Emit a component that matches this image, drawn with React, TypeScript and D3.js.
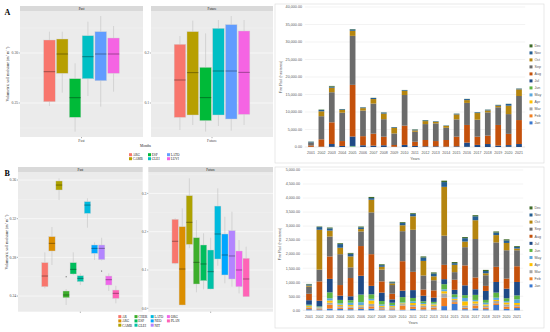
import React from "react";
import * as d3 from "d3";

// ---------- Box plot data: [lower whisker, q1, median, q3, upper whisker] ----------
const soilA = ["ARG", "CAMB", "ESP", "GLEI", "LATO", "LUVI"];
const soilColorsA = ["#F8766D", "#B79F00", "#00BA38", "#00BFC4", "#619CFF", "#F564E3"];
const pastA = [
  [0.247, 0.2513, 0.2813, 0.313, 0.3213],
  [0.2603, 0.2797, 0.299, 0.314, 0.3213],
  [0.2213, 0.2357, 0.2553, 0.2743, 0.2897],
  [0.257, 0.2743, 0.2963, 0.3173, 0.3313],
  [0.2463, 0.2723, 0.299, 0.3213, 0.337],
  [0.2613, 0.2797, 0.299, 0.315, 0.327],
];
const futureA = [
  [0.046, 0.0713, 0.146, 0.2173, 0.234],
  [0.056, 0.076, 0.1607, 0.2427, 0.2647],
  [0.0427, 0.0647, 0.1107, 0.1713, 0.2393],
  [0.054, 0.076, 0.164, 0.2493, 0.266],
  [0.0447, 0.068, 0.164, 0.2567, 0.274],
  [0.056, 0.0773, 0.1613, 0.244, 0.266],
];
const soilB = ["AR", "ARG", "CAMB", "CHER", "ESP", "GLEI", "LATO", "NEO", "NIT", "ORG", "PLAN"];
const soilColorsB = ["#F8766D", "#DB8E00", "#AEA200", "#3DAE2B", "#00BD5C", "#00C1A7", "#00BADE", "#00A6FF", "#B385FF", "#EF67EB", "#FF63B6"];
const pastB = [
  [0.248, 0.2497, 0.2607, 0.2745, 0.2852],
  [0.2721, 0.2866, 0.2945, 0.3014, 0.3114],
  [0.3393, 0.3497, 0.3548, 0.359, 0.3617],
  [0.2307, 0.2383, 0.2411, 0.2452, 0.2473],
  [0.2618, 0.2628, 0.2676, 0.2745, 0.2852],
  [0.2514, 0.2549, 0.2583, 0.261, 0.2635],
  [0.3107, 0.3255, 0.3341, 0.3376, 0.3411],
  [0.2773, 0.2842, 0.2893, 0.2928, 0.2955],
  [0.2767, 0.2777, 0.2893, 0.2928, 0.3003],
  [0.2452, 0.2514, 0.2569, 0.2607, 0.2635],
  [0.2325, 0.2376, 0.2428, 0.2462, 0.2507],
];
const pastBOutliers: [string, number][] = [["CHER", 0.26], ["NIT", 0.2659]];
const futureB = [
  [0.115, 0.1175, 0.175, 0.2323, 0.235],
  [0.008, 0.0086, 0.1026, 0.213, 0.261],
  [0.157, 0.167, 0.2245, 0.294, 0.3394],
  [0.0418, 0.0634, 0.12, 0.1843, 0.2305],
  [0.0496, 0.0721, 0.1157, 0.1653, 0.1958],
  [0.0495, 0.0504, 0.0956, 0.1522, 0.1843],
  [0.111, 0.1287, 0.194, 0.267, 0.3133],
  [0.0653, 0.087, 0.1392, 0.194, 0.2392],
  [0.0564, 0.0765, 0.1366, 0.2027, 0.2522],
  [0.039, 0.0564, 0.1, 0.1496, 0.1783],
  [0.03, 0.0303, 0.0765, 0.1305, 0.1608],
];

// ---------- Stacked bar data ----------
const years = ["2001", "2002", "2003", "2004", "2005", "2006", "2007", "2008", "2009", "2010", "2011",
  "2012", "2013", "2014", "2015", "2016", "2017", "2018", "2019", "2020", "2021"];
const months = ["Jan", "Feb", "Mar", "Apr", "May", "Jun", "Jul", "Aug", "Sep", "Oct", "Nov", "Dec"];
const monthColors = ["#3A78D0", "#F07F22", "#A5A5A5", "#FFC000", "#5BA8DE", "#5EB443", "#1F4A86", "#C4510C", "#6B6B6B", "#B5850F", "#255E91", "#3E6B2A"];

const fireA_Jan = [0, 0, 0, 0, 100, 0, 0, 0, 0, 0, 0, 0, 0, 0, 0, 0, 0, 0, 0, 0, 0];
const fireA_Feb = [0, 0, 0, 0, 0, 0, 0, 0, 0, 0, 0, 0, 0, 0, 0, 0, 0, 0, 0, 0, 0];
const fireA_Mar = [0, 0, 0, 0, 0, 0, 0, 0, 0, 0, 0, 0, 0, 0, 0, 0, 0, 0, 0, 0, 0];
const fireA_Apr = [0, 0, 0, 0, 0, 0, 0, 0, 0, 0, 0, 0, 0, 0, 0, 0, 0, 0, 0, 0, 0];
const fireA_May = [0, 0, 0, 0, 50, 0, 0, 0, 0, 0, 0, 0, 0, 0, 0, 0, 0, 0, 0, 0, 0];
const fireA_Jun = [0, 0, 50, 0, 150, 0, 0, 0, 0, 0, 0, 0, 0, 0, 0, 50, 0, 0, 0, 50, 0];
const fireA_Jul = [50, 100, 800, 300, 2700, 500, 400, 500, 70, 600, 300, 200, 200, 100, 200, 1200, 600, 850, 400, 500, 850];
const fireA_Aug = [400, 2100, 6200, 1400, 14750, 2600, 3400, 2450, 500, 5500, 1200, 1800, 1500, 1900, 2750, 5050, 2350, 2400, 5900, 3200, 6850];
const fireA_Sep = [700, 6600, 8600, 8100, 14000, 7300, 8600, 5000, 3300, 8750, 2850, 4550, 5050, 3500, 4950, 6300, 4850, 6650, 5050, 5650, 6870];
const fireA_Oct = [100, 1400, 1300, 800, 1450, 700, 1300, 1600, 1600, 1200, 400, 850, 400, 500, 1400, 800, 1900, 550, 450, 2400, 1900];
const fireA_Nov = [250, 400, 300, 200, 400, 200, 300, 300, 200, 200, 200, 200, 150, 100, 200, 300, 200, 200, 200, 500, 200];
const fireA_Dec = [50, 100, 200, 60, 100, 50, 50, 50, 30, 50, 100, 100, 50, 50, 50, 50, 50, 50, 50, 50, 50];

const fireB_Jan = [40, 30, 60, 50, 40, 50, 60, 30, 30, 20, 50, 30, 30, 150, 230, 40, 70, 40, 190, 50, 80];
const fireB_Feb = [40, 30, 140, 50, 50, 30, 80, 40, 40, 150, 80, 80, 70, 300, 60, 50, 100, 60, 60, 80, 60];
const fireB_Mar = [30, 20, 70, 50, 50, 60, 90, 50, 40, 50, 60, 60, 60, 150, 80, 80, 70, 60, 80, 80, 50];
const fireB_Apr = [40, 20, 80, 50, 50, 40, 120, 40, 40, 30, 70, 50, 50, 80, 40, 150, 80, 50, 40, 70, 70];
const fireB_May = [20, 20, 80, 50, 80, 110, 60, 50, 40, 30, 60, 40, 30, 70, 60, 120, 50, 60, 80, 50, 130];
const fireB_Jun = [30, 20, 210, 120, 90, 270, 160, 120, 80, 190, 120, 60, 60, 180, 100, 100, 180, 100, 180, 100, 140];
const fireB_Jul = [160, 200, 480, 150, 140, 670, 300, 300, 120, 230, 280, 200, 150, 180, 160, 350, 200, 320, 380, 340, 480];
const fireB_Aug = [230, 690, 800, 380, 650, 1060, 1130, 400, 200, 1050, 650, 220, 260, 510, 360, 710, 420, 180, 540, 360, 560];
const fireB_Sep = [250, 420, 710, 1100, 380, 520, 1490, 420, 310, 1070, 1500, 500, 360, 1040, 270, 650, 1370, 380, 870, 1010, 570];
const fireB_Oct = [40, 1420, 210, 230, 390, 85, 450, 100, 60, 210, 480, 520, 140, 1740, 260, 200, 670, 70, 260, 260, 60];
const fireB_Nov = [40, 95, 80, 130, 95, 60, 60, 60, 40, 80, 80, 120, 100, 170, 60, 120, 140, 80, 90, 90, 60];
const fireB_Dec = [20, 20, 30, 30, 30, 30, 40, 30, 20, 30, 30, 40, 40, 50, 40, 40, 40, 40, 40, 40, 30];

const fireA = [fireA_Jan, fireA_Feb, fireA_Mar, fireA_Apr, fireA_May, fireA_Jun, fireA_Jul, fireA_Aug, fireA_Sep, fireA_Oct, fireA_Nov, fireA_Dec];
const fireB = [fireB_Jan, fireB_Feb, fireB_Mar, fireB_Apr, fireB_May, fireB_Jun, fireB_Jul, fireB_Aug, fireB_Sep, fireB_Oct, fireB_Nov, fireB_Dec];

const SERIF = "'Liberation Serif', 'DejaVu Serif', serif";
const SANS = "'Liberation Sans', Arial, sans-serif";

type BoxProps = {
  x0: number; x1: number; stripTop: number; stripH: number; bottom: number;
  domain: [number, number]; ticks: number[]; fmt: string; strip: string;
  cats: string[]; colors: string[]; stats: number[][]; outliers?: [string, number][];
  step: number; xLabel?: string;
};

function BoxPanel(p: BoxProps) {
  const top = p.stripTop + p.stripH;
  const y = d3.scaleLinear().domain(p.domain).range([p.bottom, top]);
  const cx = (p.x0 + p.x1) / 2;
  const half = (p.cats.length * p.step) / 2;
  const xb = d3.scaleBand().domain(p.cats).range([cx - half, cx + half]).paddingInner(0.1).paddingOuter(0.05);
  const f = d3.format(p.fmt);
  const dt = p.ticks.length > 1 ? p.ticks[1] - p.ticks[0] : 0.1;
  const minor: number[] = [];
  for (let v = p.ticks[0] - dt / 2; v <= p.domain[1]; v += dt) if (v >= p.domain[0]) minor.push(v);
  return (
    <g>
      <rect x={p.x0} y={p.stripTop} width={p.x1 - p.x0} height={p.stripH} fill="#D9D9D9" />
      <text x={cx} y={p.stripTop + p.stripH / 2 + 1.2} fontSize={3.4} textAnchor="middle" fill="#1A1A1A" fontFamily={SERIF}>{p.strip}</text>
      <rect x={p.x0} y={top} width={p.x1 - p.x0} height={p.bottom - top} fill="#EBEBEB" />
      {minor.map((v, i) => (
        <line key={"m" + i} x1={p.x0} x2={p.x1} y1={y(v)} y2={y(v)} stroke="#F7F7F7" strokeWidth={0.3} />
      ))}
      {p.ticks.map((v, i) => (
        <g key={"t" + i}>
          <line x1={p.x0} x2={p.x1} y1={y(v)} y2={y(v)} stroke="#FFFFFF" strokeWidth={0.6} />
          <line x1={p.x0 - 1.2} x2={p.x0} y1={y(v)} y2={y(v)} stroke="#333" strokeWidth={0.4} />
          <text x={p.x0 - 1.8} y={y(v) + 1.3} fontSize={3.8} textAnchor="end" fill="#4D4D4D" fontFamily={SERIF}>{f(v)}</text>
        </g>
      ))}
      <line x1={cx} x2={cx} y1={p.bottom} y2={p.bottom + 1.2} stroke="#333" strokeWidth={0.4} />
      {p.xLabel && (
        <text x={cx} y={p.bottom + 5} fontSize={3.8} textAnchor="middle" fill="#4D4D4D" fontFamily={SERIF}>{p.xLabel}</text>
      )}
      {p.cats.map((c, i) => {
        const s = p.stats[i];
        const bx = xb(c)!;
        const bw = xb.bandwidth();
        const mx = bx + bw / 2;
        return (
          <g key={c}>
            <line x1={mx} x2={mx} y1={y(s[4])} y2={y(s[3])} stroke="#BDBDBD" strokeWidth={0.5} />
            <line x1={mx} x2={mx} y1={y(s[1])} y2={y(s[0])} stroke="#BDBDBD" strokeWidth={0.5} />
            <rect x={bx} y={y(s[3])} width={bw} height={Math.max(0.5, y(s[1]) - y(s[3]))} fill={p.colors[i]} stroke="#D0D0D0" strokeWidth={0.4} />
            <line x1={bx} x2={bx + bw} y1={y(s[2])} y2={y(s[2])} stroke="#000" strokeOpacity={0.5} strokeWidth={0.7} />
          </g>
        );
      })}
      {(p.outliers || []).map(([c, v], i) => (
        <circle key={"o" + i} cx={xb(c)! + xb.bandwidth() / 2} cy={y(v)} r={0.55} fill="#333" />
      ))}
    </g>
  );
}

type BarProps = {
  series: number[][]; frame: [number, number, number, number];
  xr: [number, number]; yr: [number, number]; yMax: number; yStep: number;
  labelX: number; yearY: number; yearsTitle: [number, number]; title: [number, number];
  legendX: number; legendY0: number; legendDy: number;
};

function BarChart(p: BarProps) {
  const rows = years.map((yr, i) => {
    const r: any = { year: yr };
    months.forEach((m, k) => (r[m] = p.series[k][i]));
    return r;
  });
  const stacked = d3.stack<any>().keys(months)(rows);
  const x = d3.scaleBand().domain(years).range(p.xr).paddingInner(0.45).paddingOuter(0.225);
  const y = d3.scaleLinear().domain([0, p.yMax]).range(p.yr);
  const ticks = d3.range(0, p.yMax + 1, p.yStep);
  const f = d3.format(",.2f");
  const [fx, fy, fw, fh] = p.frame;
  return (
    <g fontFamily={SANS}>
      <rect x={fx} y={fy} width={fw} height={fh} fill="#FFFFFF" stroke="#D9D9D9" strokeWidth={0.6} />
      {ticks.map((t) => (
        <g key={t}>
          <line x1={p.xr[0] - 1} x2={p.xr[1] + 1} y1={y(t)} y2={y(t)} stroke={t === 0 ? "#D0D0D0" : "#E6E6E6"} strokeWidth={0.5} />
          <text x={p.labelX} y={y(t) + 1.3} fontSize={3.7} textAnchor="end" fill="#595959">{f(t)}</text>
        </g>
      ))}
      {stacked.map((layer, k) => (
        <g key={months[k]} fill={monthColors[k]}>
          {layer.map((d, i) => (
            <rect key={i} x={x(years[i])} y={y(d[1])} width={x.bandwidth()} height={Math.max(0, y(d[0]) - y(d[1]))} />
          ))}
        </g>
      ))}
      {years.map((yr) => (
        <text key={yr} x={x(yr)! + x.bandwidth() / 2} y={p.yearY} fontSize={3.6} textAnchor="middle" fill="#595959">{yr}</text>
      ))}
      <text x={p.yearsTitle[0]} y={p.yearsTitle[1]} fontSize={3.8} textAnchor="middle" fill="#595959">Years</text>
      <text transform={`translate(${p.title[0]},${p.title[1]}) rotate(-90)`} fontSize={3.8} textAnchor="middle" fill="#595959">Fire Rad (hectares)</text>
      {months.slice().reverse().map((m, j) => {
        const k = months.length - 1 - j;
        const ly = p.legendY0 + j * p.legendDy;
        return (
          <g key={m}>
            <rect x={p.legendX} y={ly - 1.6} width={3} height={3} fill={monthColors[k]} />
            <text x={p.legendX + 5} y={ly + 1.2} fontSize={3.6} fill="#595959">{m}</text>
          </g>
        );
      })}
    </g>
  );
}

function Legend({ x, y, cols, colDx, rowDy, cats, colors, title }: any) {
  return (
    <g fontFamily={SERIF}>
      {title && <text x={title[0]} y={title[1]} fontSize={3.6} fill="#1A1A1A">{title[2]}</text>}
      {cats.map((c: string, i: number) => {
        const col = Math.floor(i / cols);
        const row = i % cols;
        const kx = x + col * colDx;
        const ky = y + row * rowDy;
        return (
          <g key={c}>
            <rect x={kx} y={ky - 1.6} width={3} height={3} fill={colors[i]} />
            <text x={kx + 3.8} y={ky + 1.2} fontSize={3.4} fill="#1A1A1A">{c}</text>
          </g>
        );
      })}
    </g>
  );
}

export default function App() {
  return (
    <svg width={550} height={332} viewBox="0 0 550 332" style={{ position: "absolute", left: 0, top: 0, background: "#fff" }}>
      <rect x={0} y={0} width={550} height={332} fill="#FFFFFF" />
      {/* Panel A */}
      <text x={4.5} y={15} fontSize={8} fontWeight="bold" fontFamily={SERIF}>A</text>
      <text transform="translate(8.5,74) rotate(-90)" fontSize={4} textAnchor="middle" fill="#1A1A1A" fontFamily={SERIF}>
        Volumetric soil moisture (m<tspan dy={-1.2} fontSize={2.8}>3</tspan><tspan dy={1.2}> m</tspan><tspan dy={-1.2} fontSize={2.8}>−3</tspan><tspan dy={1.2}>)</tspan>
      </text>
      <BoxPanel x0={20} x1={143} stripTop={6} stripH={5} bottom={137} domain={[0.216, 0.342]} ticks={[0.25, 0.3]} fmt=".2f"
        strip="Past" cats={soilA} colors={soilColorsA} stats={pastA} step={12.83} xLabel="Past" />
      <BoxPanel x0={151} x1={273} stripTop={6} stripH={5} bottom={137} domain={[0.032, 0.284]} ticks={[0.1, 0.2]} fmt=".1f"
        strip="Future" cats={soilA} colors={soilColorsA} stats={futureA} step={12.83} xLabel="Future" />
      <Legend x={129} y={154.8} cols={2} colDx={19} rowDy={4} cats={soilA} colors={soilColorsA} title={[140, 146.5, "Months"]} />
      <BarChart series={fireA} frame={[275, 4, 269, 159]} xr={[305.8, 524.2]} yr={[147, 7]} yMax={40000} yStep={5000}
        labelX={302} yearY={153.5} yearsTitle={[415, 160.3]} title={[282, 77]}
        legendX={529.5} legendY0={46} legendDy={7} />

      {/* Panel B */}
      <text x={4.5} y={176} fontSize={8} fontWeight="bold" fontFamily={SERIF}>B</text>
      <text transform="translate(7.5,242) rotate(-90)" fontSize={4} textAnchor="middle" fill="#1A1A1A" fontFamily={SERIF}>
        Volumetric soil moisture (m<tspan dy={-1.2} fontSize={2.8}>3</tspan><tspan dy={1.2}> m</tspan><tspan dy={-1.2} fontSize={2.8}>−3</tspan><tspan dy={1.2}>)</tspan>
      </text>
      <BoxPanel x0={18} x1={142.7} stripTop={167} stripH={5} bottom={311.7} domain={[0.2238, 0.3683]} ticks={[0.24, 0.28, 0.32, 0.36]} fmt=".2f"
        strip="Past" cats={soilB} colors={soilColorsB} stats={pastB} outliers={pastBOutliers} step={7.1} />
      <BoxPanel x0={148.3} x1={273} stripTop={167} stripH={5} bottom={311.7} domain={[-0.0089, 0.3559]} ticks={[0, 0.1, 0.2, 0.3]} fmt=".1f"
        strip="Future" cats={soilB} colors={soilColorsB} stats={futureB} step={7.1} />
      <Legend x={118.3} y={316.7} cols={3} colDx={16.2} rowDy={4.3} cats={soilB} colors={soilColorsB} />
      <BarChart series={fireB} frame={[275, 167, 269, 161]} xr={[303.8, 522.2]} yr={[310.3, 170]} yMax={5000} yStep={500}
        labelX={300} yearY={317.5} yearsTitle={[413, 324]} title={[281, 244]}
        legendX={529.5} legendY0={208} legendDy={7.09} />
    </svg>
  );
}
